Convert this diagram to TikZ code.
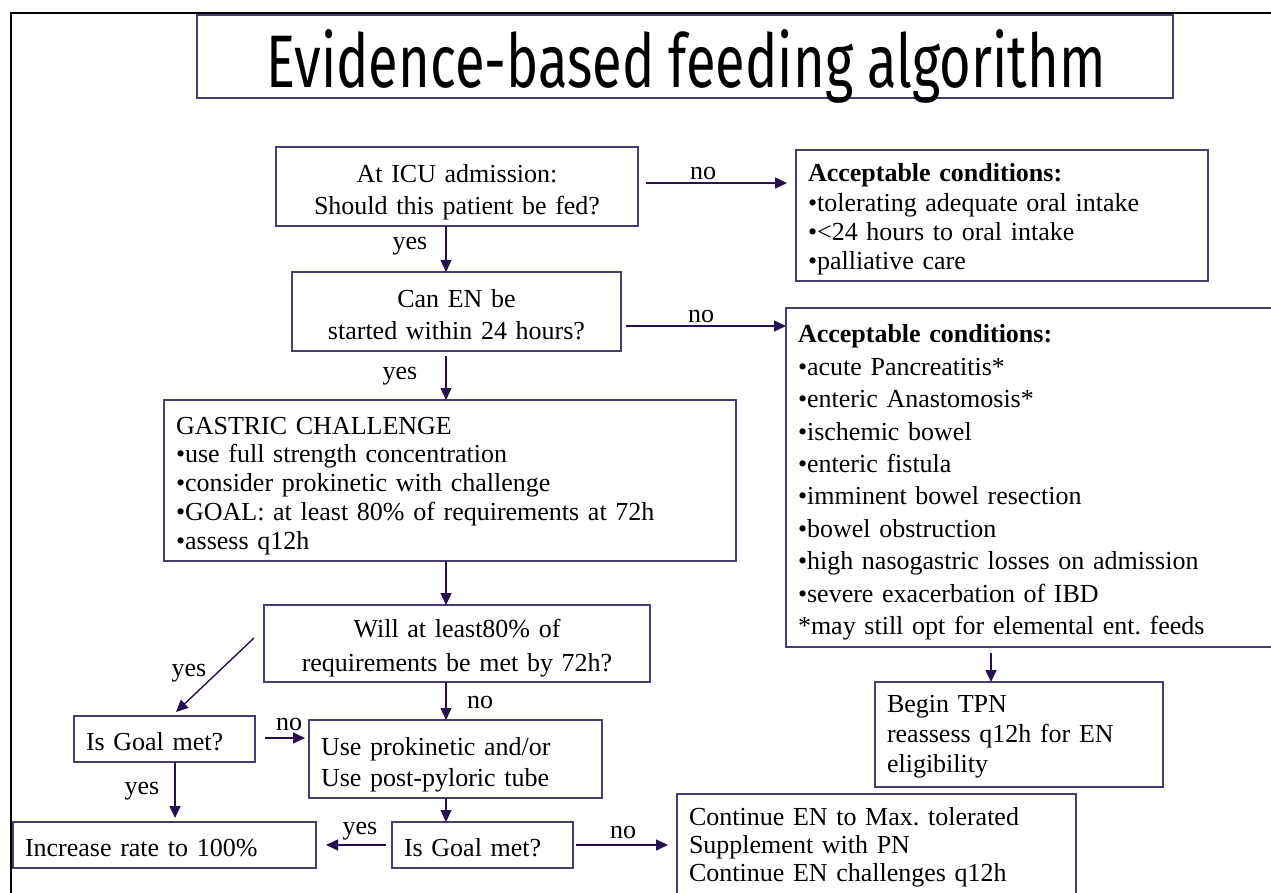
\documentclass[tikz,border=0pt]{standalone}
\usepackage{fontspec}
\setmainfont{Liberation Serif}
\newfontfamily\titlefont{Fira Sans}
\usetikzlibrary{arrows.meta}
\definecolor{boxc}{HTML}{4B3B73}
\definecolor{arrc}{HTML}{2A0E52}
\newcommand\myfs[1]{\fontsize{26}{#1}\selectfont\frenchspacing}
\newcommand\toppad[1]{\rule{0pt}{#1pt}}
\begin{document}
\begin{tikzpicture}[x=1pt,y=-1pt,
  box/.style={draw=boxc, line width=1.4pt, anchor=north west, inner xsep=12pt, inner ysep=0pt, outer sep=0pt},
  lbox/.style={box, align=left},
  cbox/.style={box, align=center},
  arr/.style={draw=arrc, line width=1.4pt, -{Triangle[length=12pt,width=11pt]}},
  lab/.style={font=\myfs{30}, inner sep=0pt}]
\useasboundingbox (0,0) rectangle (1271,893);
\fill[white] (0,0) rectangle (1271,893);
% outer frame
\draw[line width=2.4pt, black] (1290,13) -- (11,13) -- (11,910);
% title
\node[draw=boxc, line width=1.4pt, anchor=north west, minimum width=976pt, minimum height=83pt, inner sep=0pt, outer sep=0pt] (titlebox) at (197,15) {};
\node[anchor=base, inner sep=0pt] (title) at (686,88) {\resizebox{839pt}{58pt}{\titlefont Evidence-based feeding algorithm}};
% boxes
\node[cbox, text width=338pt, minimum height=79pt, font=\myfs{32}] (A) at (276,147) {\toppad{30}At ICU admission:\\Should this patient be fed?};
\node[lbox, text width=388pt, minimum height=131pt, font=\myfs{29.3}] (B) at (796,150) {\toppad{26}\textbf{Acceptable conditions:}\\•tolerating adequate oral intake\\•<24 hours to oral intake\\•palliative care};
\node[cbox, text width=305pt, minimum height=79pt, font=\myfs{32}] (C) at (292,272) {\toppad{24}Can EN be\\started within 24 hours?};
\node[lbox, text width=470pt, minimum height=339pt, font=\myfs{32.4}] (D) at (786,308) {\toppad{28}\textbf{Acceptable conditions:}\\•acute Pancreatitis*\\•enteric Anastomosis*\\•ischemic bowel\\•enteric fistula\\•imminent bowel resection\\•bowel obstruction\\•high nasogastric losses on admission\\•severe exacerbation of IBD\\{}*may still opt for elemental ent. feeds};
\node[lbox, text width=264pt, minimum height=105pt, font=\myfs{30}] (E) at (875,682) {\toppad{22}Begin TPN\\reassess q12h for EN\\eligibility};
\node[lbox, text width=548pt, minimum height=161pt, font=\myfs{28.75}] (F) at (164,400) {\toppad{28}GASTRIC CHALLENGE\\•use full strength concentration\\•consider prokinetic with challenge\\•GOAL: at least 80\% of requirements at 72h\\•assess q12h};
\node[cbox, text width=362pt, minimum height=77pt, font=\myfs{34}] (G) at (264,605) {\toppad{28}Will at least80\% of\\requirements be met by 72h?};
\node[lbox, text width=157pt, minimum height=46pt, font=\myfs{30}] (H) at (74,716) {\toppad{24}Is Goal met?};
\node[lbox, text width=269pt, minimum height=78pt, font=\myfs{31}] (I) at (309,720) {\toppad{30}Use prokinetic and/or\\Use post-pyloric tube};
\node[lbox, text width=279pt, minimum height=46pt, font=\myfs{30}] (J) at (13,822) {\toppad{24}Increase rate to 100\%};
\node[lbox, text width=157pt, minimum height=46pt, font=\myfs{30}] (K) at (392,822) {\toppad{24}Is Goal met?};
\node[lbox, text width=375pt, minimum height=106pt, font=\myfs{28}] (L) at (677,794) {Continue EN to Max. tolerated\\Supplement with PN\\Continue EN challenges q12h};
% connectors
\draw[arr] ([xshift=8pt,yshift=3.5pt]A.east) -- ([xshift=-9pt,yshift=32.5pt]B.west);
\draw[arr] ([xshift=-11pt]A.south) -- ([xshift=-10.5pt]C.north);
\draw[arr] ([xshift=5pt,yshift=-14.5pt]C.east) -- ([yshift=151.5pt]D.west);
\draw[arr] ([xshift=-10.5pt,yshift=-5pt]C.south) -- ([xshift=-4pt]F.north);
\draw[arr] ([xshift=-42pt,yshift=-6pt]D.south) -- ([xshift=-28pt]E.north);
\draw[arr] ([xshift=-4pt]F.south) -- ([xshift=-11pt]G.north);
\draw[arr] ([xshift=-10pt,yshift=5.5pt]G.west) -- ([xshift=11.5pt,yshift=4pt]H.north);
\draw[arr] ([xshift=-11pt]G.south) -- ([xshift=-9.5pt]I.north);
\draw[arr] ([xshift=10pt,yshift=1pt]H.east) -- ([xshift=-4pt,yshift=21pt]I.west);
\draw[arr] ([xshift=10.5pt]H.south) -- ([xshift=10.5pt,yshift=4pt]J.north);
\draw[arr] ([xshift=-9.5pt]I.south) -- ([xshift=-36.5pt]K.north);
\draw[arr] ([xshift=-6pt]K.west) -- ([xshift=10pt]J.east);
\draw[arr] ([xshift=3pt]K.east) -- ([xshift=-9pt,yshift=2pt]L.west);
% labels
\node[lab] (l1) at (703,174) {no};
\node[lab] (l2) at (410,246) {yes};
\node[lab] (l3) at (701,317) {no};
\node[lab] (l4) at (400,376) {yes};
\node[lab] (l5) at (189,673) {yes};
\node[lab] (l6) at (480,702) {no};
\node[lab] (l7) at (289,724) {no};
\node[lab] (l8) at (142,791) {yes};
\node[lab] (l9) at (360,831) {yes};
\node[lab] (l10) at (623,832) {no};
\end{tikzpicture}
\end{document}
